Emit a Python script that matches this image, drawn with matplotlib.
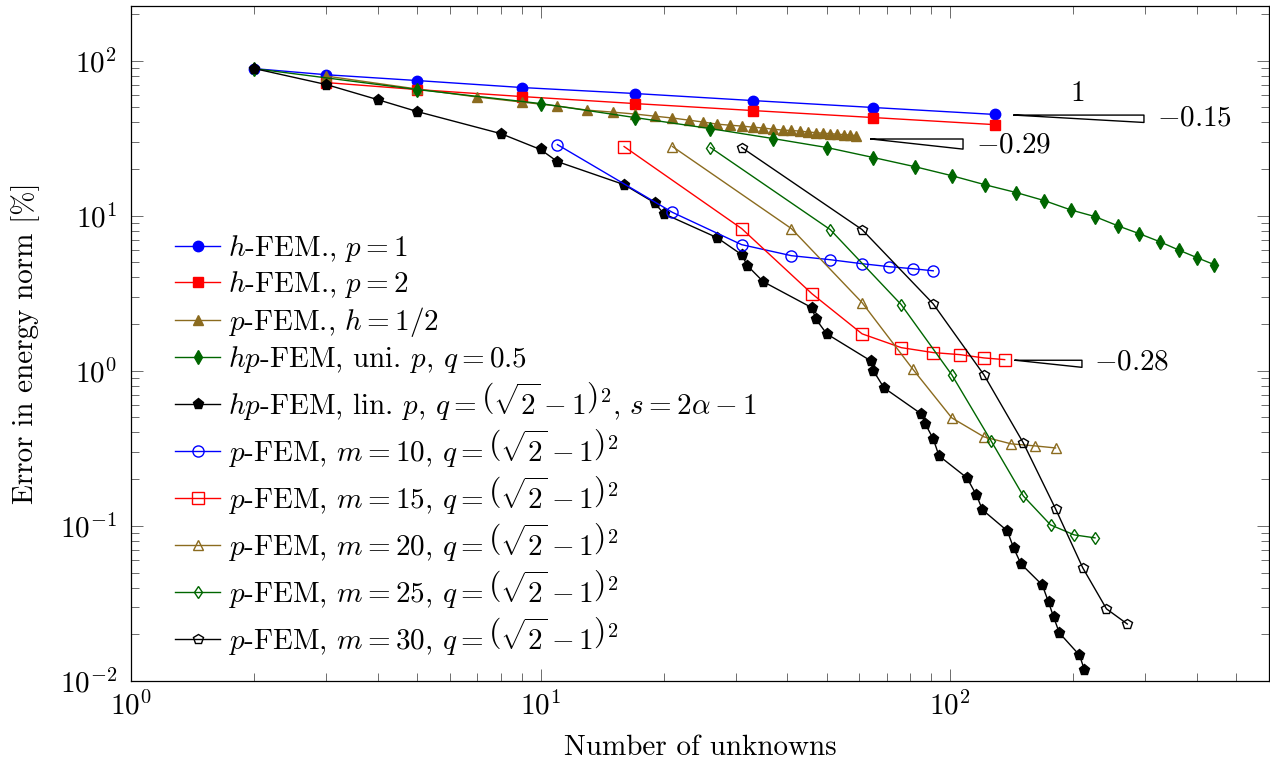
import matplotlib
matplotlib.use("Agg")
import matplotlib.pyplot as plt
from matplotlib.ticker import LogLocator, NullFormatter

plt.rcParams.update({
    "font.family": "serif",
    "font.serif": ["cmr10"],
    "mathtext.fontset": "cm",
    "axes.formatter.use_mathtext": True,
    "font.size": 21,
})

### colours ###
blue = (0, 0, 1)
red = (1, 0, 0)
brown = "#8b6b1f"
green = "#006600"
black = "k"

### h-FEM, uniform refinement ###
h1_n = [2, 3, 5, 9, 17, 33, 65, 129]
h1_err = [88.7, 81.0, 74.3, 67.0, 61.3, 55.2, 49.8, 44.9]

h2_n = [3, 5, 9, 17, 33, 65, 129]
h2_err = [72.1, 65.0, 58.6, 52.8, 47.6, 42.9, 38.6]

### p-FEM on two elements ###
ph_n = [3, 5, 7, 9, 11, 13, 15, 17, 19, 21, 23, 25, 27, 29, 31,
        33, 35, 37, 39, 41, 43, 45, 47, 49, 51, 53, 55, 57, 59]
ph_err = [79.4, 65.5, 58.2, 54.0, 50.9, 47.9, 46.5, 45.2, 43.8, 42.6,
          41.3, 40.1, 38.9, 38.3, 37.8, 37.2, 36.7, 36.1, 35.6, 35.4,
          35.1, 34.6, 34.3, 34.0, 33.8, 33.5, 33.3, 33.1, 32.8]

### hp-FEM, uniform p ###
hpu_n = [2, 5, 10, 17, 26, 37, 50, 65, 82, 101, 122, 145, 170, 197,
         226, 257, 290, 325, 362, 401, 442]
hpu_err = [88.7, 65.0, 52.8, 42.9, 36.4, 31.4, 27.5, 23.7, 20.7, 18.1,
           15.8, 14.1, 12.5, 10.9, 9.86, 8.6, 7.65, 6.8, 6.0, 5.36, 4.83]

### hp-FEM, linear p ###
hpl_n = [2, 3, 4, 5, 8, 10, 11, 16, 19, 20, 27, 31, 32, 35, 46, 47, 50,
         64, 65, 69, 85, 87, 91, 94, 110, 116, 120, 138, 143, 149, 168,
         174, 179, 185, 207, 213]
hpl_err = [88.8, 70.0, 56.0, 46.9, 33.8, 26.7, 22.3, 15.85, 12.1, 10.3,
           7.21, 5.60, 4.76, 3.75, 2.55, 2.16, 1.73, 1.16, 1.0, 0.776,
           0.528, 0.455, 0.364, 0.283, 0.204, 0.158, 0.127, 0.0929,
           0.0721, 0.0569, 0.0416, 0.0323, 0.0259, 0.0204, 0.0147, 0.0118]

### p-FEM on graded meshes with m elements ###
m10_n = [11, 21, 31, 41, 51, 61, 71, 81, 91]
m10_err = [28.7, 10.5, 6.5, 5.52, 5.2, 4.9, 4.69, 4.55, 4.41]

m15_n = [16, 31, 46, 61, 76, 91, 106, 121, 136]
m15_err = [27.9, 8.25, 3.14, 1.73, 1.41, 1.31, 1.27, 1.21, 1.18]

m20_n = [21, 41, 61, 81, 101, 121, 141, 161, 181]
m20_err = [27.9, 8.25, 2.75, 1.03, 0.497, 0.375, 0.338, 0.328, 0.318]

m25_n = [26, 51, 76, 101, 126, 151, 176, 201, 226]
m25_err = [27.5, 8.13, 2.67, 0.942, 0.353, 0.156, 0.1015, 0.0875, 0.0837]

m30_n = [31, 61, 91, 121, 151, 181, 211, 241, 271]
m30_err = [27.5, 8.13, 2.70, 0.942, 0.343, 0.129, 0.0536, 0.0292, 0.0233]

### slope triangles: (x start, x end, y start, slope, label position) ###
tri_x0 = [143.3, 64.1, 144.2]
tri_x1 = [297.6, 107.6, 210.0]
tri_y0 = [44.5, 31.2, 1.169]
tri_slope = [-0.15, -0.29, -0.28]
tri_label_x = [320.3, 115.8, 224.7]
tri_label_y = [42.6, 28.5, 1.135]

q_str = r"$q=\left(\sqrt{2}-1\right)^2$"

fig = plt.figure(figsize=(12.7, 7.65), dpi=100)
ax = fig.add_axes([131 / 1270, 1 - 681 / 765, 1138 / 1270, 675 / 765])

lw = 1.0
ax.plot(h1_n, h1_err, "-o", color=blue, lw=lw, ms=7.5, label=r"$h$-FEM., $p=1$")
ax.plot(h2_n, h2_err, "-s", color=red, lw=lw, ms=7, label=r"$h$-FEM., $p=2$")
ax.plot(ph_n, ph_err, "-^", color=brown, lw=lw, ms=7, label=r"$p$-FEM., $h=1/2$")
ax.plot(hpu_n, hpu_err, "-d", color=green, lw=lw, ms=7, label=r"$hp$-FEM, uni. $p$, $q=0.5$")
ax.plot(hpl_n, hpl_err, "-p", color=black, lw=lw, ms=8,
        label=r"$hp$-FEM, lin. $p$, " + q_str + r", $s=2\alpha-1$")

open_series = [(m10_n, m10_err, "o", blue, 8, 10),
               (m15_n, m15_err, "s", red, 8, 15),
               (m20_n, m20_err, "^", brown, 7, 20),
               (m25_n, m25_err, "d", green, 6.5, 25),
               (m30_n, m30_err, "p", black, 7.5, 30)]
for n, err, mk, col, ms, m in open_series:
    ax.plot(n, err, "-" + mk, color=col, lw=lw, ms=ms, mfc="none", mew=1.0,
            label=r"$p$-FEM, $m=%d$, " % m + q_str)

for x0, x1, y0, s in zip(tri_x0, tri_x1, tri_y0, tri_slope):
    y1 = y0 * (x1 / x0) ** s
    ax.plot([x0, x1, x1, x0], [y0, y0, y1, y0], color="k", lw=1.0)
for lx, ly, s in zip(tri_label_x, tri_label_y, tri_slope):
    ax.text(lx, ly, r"$%.2f$" % s, ha="left", va="center")
ax.text(204.2, 60.8, r"$1$", ha="center", va="center")

ax.set_xscale("log")
ax.set_yscale("log")
ax.set_xlim(1, 10 ** (1138 / 409.5))
ax.set_ylim(1e-2, 10 ** (2 + 54.5 / 155))
ax.xaxis.set_major_locator(LogLocator(base=10, numticks=10))
ax.xaxis.set_minor_locator(LogLocator(base=10, subs=range(2, 10), numticks=20))
ax.yaxis.set_minor_locator(LogLocator(base=10, subs=range(2, 10), numticks=20))
ax.xaxis.set_minor_formatter(NullFormatter())
ax.yaxis.set_minor_formatter(NullFormatter())
ax.tick_params(which="both", direction="in", top=True, right=True,
               color="#555555", width=0.6)
ax.tick_params(which="major", length=8.5)
ax.tick_params(which="minor", length=6)
ax.tick_params(axis="x", pad=7)
ax.tick_params(axis="y", pad=10)
for sp in ax.spines.values():
    sp.set_linewidth(0.9)

ax.set_xlabel("Number of unknowns")
ax.set_ylabel("Error in energy norm [%]")
ax.xaxis.set_label_coords(0.5, -0.08)
ax.yaxis.set_label_coords(-0.08, 0.5)

ax.legend(loc="upper left", bbox_to_anchor=(0.0387, 0.663), frameon=False,
          borderpad=0, borderaxespad=0, handlelength=1.55, handletextpad=0.25,
          labelspacing=0.17)

fig.savefig("out.png", dpi=100)
